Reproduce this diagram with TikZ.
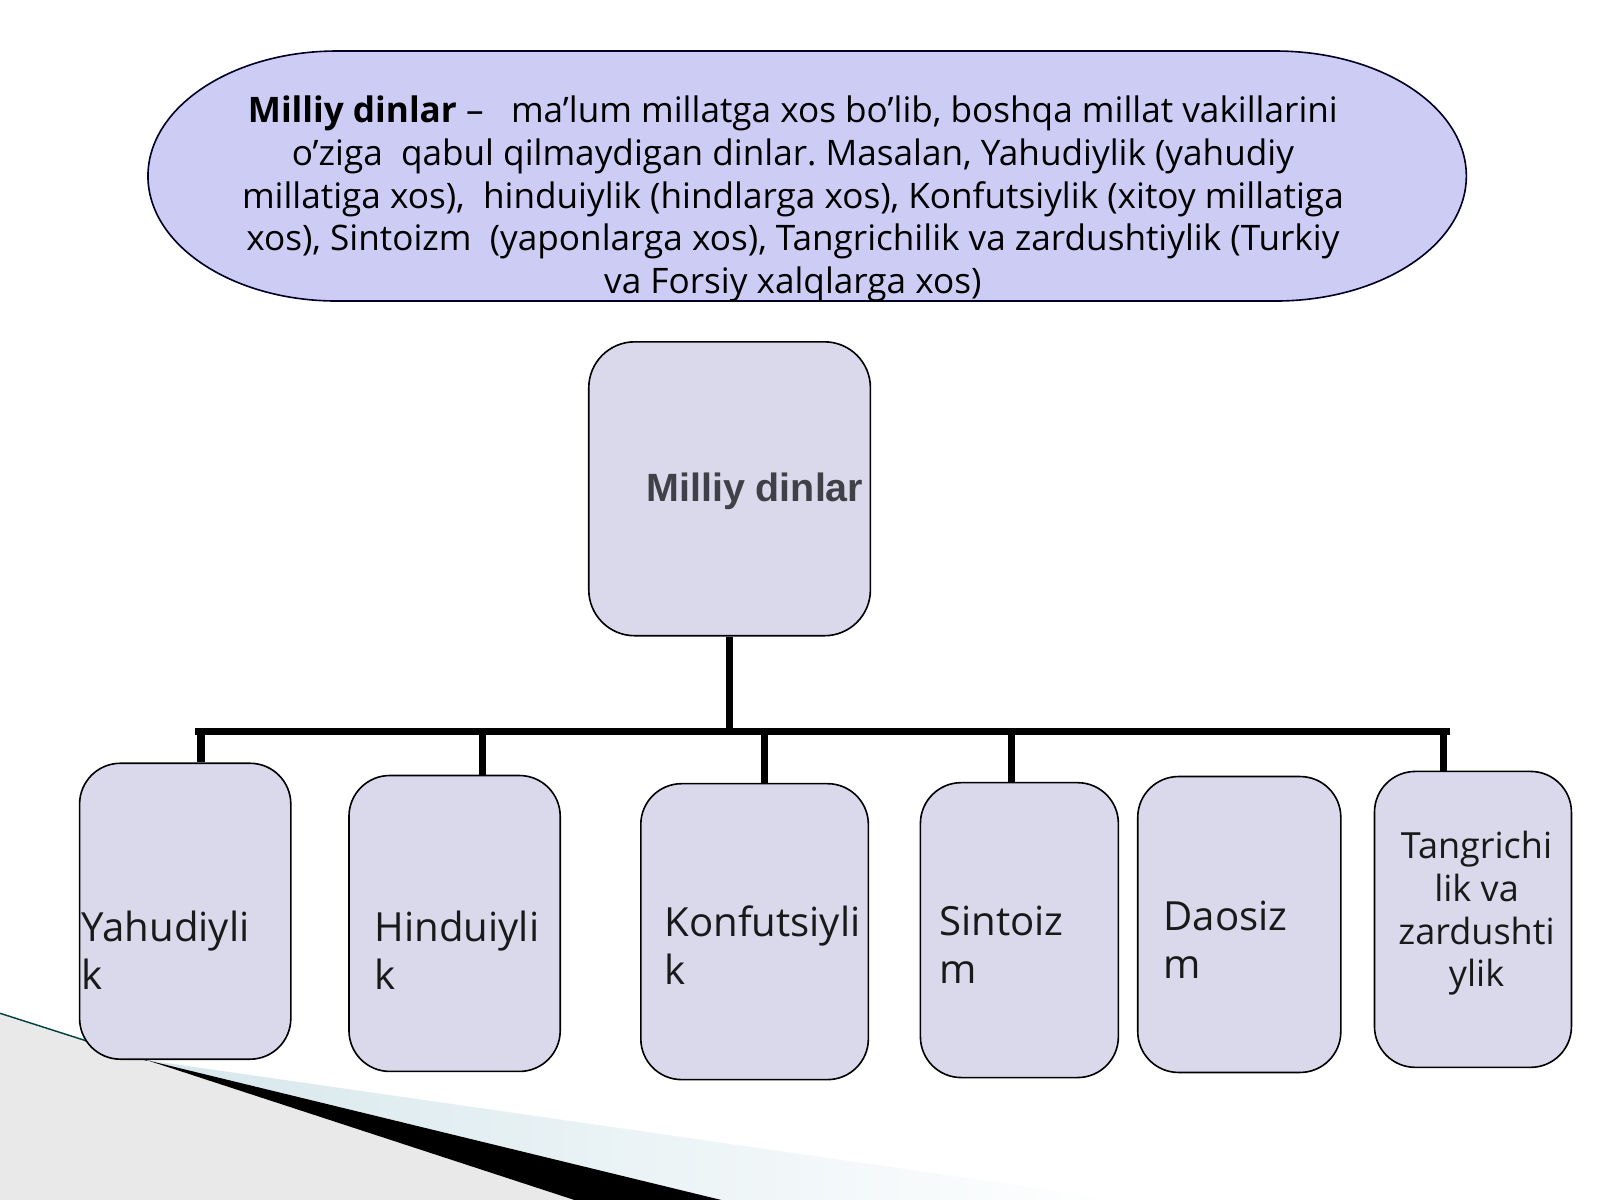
\documentclass[tikz,border=0pt]{standalone}
\usepackage{fontspec}
\setmainfont{Open Sans}
\newfontfamily\arialfont{Liberation Sans}
\usetikzlibrary{fit}
\definecolor{defFill}{HTML}{CCCCF5}
\definecolor{boxFill}{HTML}{D9D9EB}
\definecolor{rootText}{HTML}{404048}
\definecolor{decoGray}{HTML}{E9E9E9}
\definecolor{decoBlue}{HTML}{D6E7EC}
\frenchspacing

\begin{document}
\begin{tikzpicture}[
        x=0.02cm, y=-0.02cm, % координаты в пикселях
        box/.style = {draw=black, line width=0.9pt, fill=boxFill, rounded corners=0.8cm, inner sep=0pt}, % Стиль блоков
        bus/.style = {line width=4pt},
        lbl/.style = {inner sep=0pt, align=left, text=black!90, font=\fontsize{22.4}{26.75}\selectfont},
    ]
    \useasboundingbox[fill=white] (0,0) rectangle (1568,1176);

    % уголок слева внизу
    \fill[decoGray] (0,993) -- (144,1039) -- (563,1176) -- (0,1176) -- cycle;
    \shade[left color=decoBlue, right color=white] (144,1039) -- (1098,1176) -- (707,1176) -- cycle;
    \fill[black] (144,1039) -- (707,1176) -- (563,1176) -- cycle;
    \draw[teal!50!black, line width=0.8pt] (0,993) -- (144,1039);

    % определение
    \draw[draw=black!85!blue, line width=0.9pt, fill=defFill]
        (330,50) -- (1250,50) arc[start angle=-90, end angle=90, x radius=187, y radius=122.5]
        -- (330,295) arc[start angle=90, end angle=270, x radius=185, y radius=122.5] -- cycle;
    \node[align=center, inner sep=0pt, font=\fontsize{19.6}{23.9}\selectfont] (defT) at (777,195)
        {\textbf{Milliy dinlar} –\ \ \ ma’lum millatga xos bo’lib, boshqa millat vakillarini\\
         o’ziga\ \ qabul qilmaydigan dinlar. Masalan, Yahudiylik (yahudiy\\
         millatiga xos),\ \ hinduiylik (hindlarga xos), Konfutsiylik (xitoy millatiga\\
         xos), Sintoizm\ \ (yaponlarga xos), Tangrichilik va zardushtiylik (Turkiy\\
         va Forsiy xalqlarga xos)};

    % блоки
    \node[box, rounded corners=0.9cm, fit={(577,335) (853,623)}] (root) {};
    \node[anchor=west, inner sep=0pt, text=rootText, font=\arialfont\bfseries\fontsize{22}{26}\selectfont] (rootT) at (633,481) {Milliy dinlar};

    \node[box, fit={(78,748) (285,1038)}] (yah) {};
    \node[box, fit={(342,760) (549,1050)}] (hin) {};
    \node[box, fit={(628,768) (851,1058)}] (kon) {};
    \node[box, fit={(902,767) (1096,1056)}] (sin) {};
    \node[box, fit={(1115,761) (1314,1051)}] (dao) {};
    \node[box, fit={(1347,756) (1540,1046)}] (tan) {};

    \node[lbl, anchor=west] (yahT) at (80,931) {Yahudiyli\\k};
    \node[lbl, anchor=west] (hinT) at (367,931) {Hinduiyli\\k};
    \node[lbl, anchor=west] (konT) at (651,926) {Konfutsiyli\\k};
    \node[lbl, anchor=west] (sinT) at (920,926) {Sintoiz\\m};
    \node[lbl, anchor=west] (daoT) at (1140,921) {Daosiz\\m};
    \node[lbl, align=center, font=\fontsize{20.1}{23.9}\selectfont] (tanT) at (1447,895) {Tangrichi\\lik va\\zardushti\\ylik};

    % соединения
    \coordinate (hub) at (715,717);
    \coordinate (busL) at (195,717);
    \coordinate (busR) at (1417,717);
    \draw[bus] (root.south) -- (hub);
    \draw[bus, line cap=rect] (busL) -- (busR);
    \foreach \x/\n in {197/yah, 473/hin, 749/kon, 991/sin, 1415/tan}
        \draw[bus] (\x,717) -- (\x,717 |- \n.north);
\end{tikzpicture}
\end{document}
